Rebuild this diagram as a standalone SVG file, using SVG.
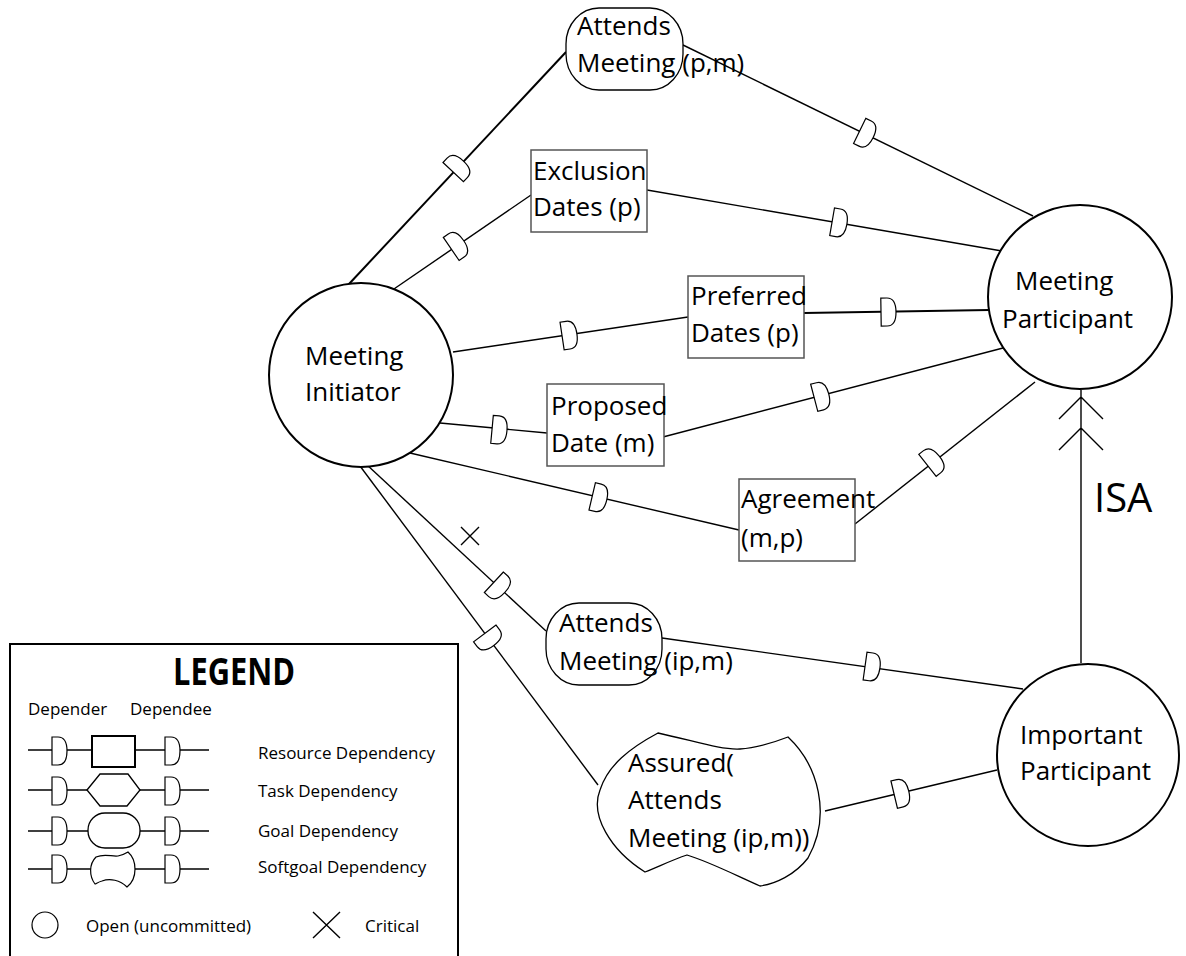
<svg xmlns="http://www.w3.org/2000/svg" xmlns:xlink="http://www.w3.org/1999/xlink" width="1186" height="956" viewBox="0 0 1186 956">
  <style>
    text { font-family: "Open Sans", "Noto Sans", sans-serif; fill: #000; }
    .lbl { font-size: 26px; }
    .leg { font-size: 17px; }
    .link { fill: none; stroke: #000; stroke-width: 1.4; }
    .thick { stroke-width: 2; }
    .actor { fill: #fff; stroke: #000; stroke-width: 2; }
    .res { fill: #fff; stroke: #555; stroke-width: 1.5; }
    .goal { fill: #fff; stroke: #000; stroke-width: 1.3; }
    .dmark { fill: #fff; stroke: #000; stroke-width: 1.2; }
  </style>
  <defs>
    <!-- "D" dependency mark, flat side toward the depender, bulge toward the dependee -->
    <path id="dep" class="dmark" d="M-7,-14 V14 H-1 C6,14 8,7 8,0 C8,-7 6,-14 -1,-14 Z"/>
  </defs>

  <!-- connectors -->
  <g id="connectors">
    <line class="link thick" x1="349" y1="284" x2="566" y2="52"/>
    <line class="link" x1="683" y1="45" x2="1033" y2="216"/>
    <line class="link" x1="391" y1="291" x2="531" y2="195"/>
    <line class="link" x1="647" y1="190" x2="1002" y2="251"/>
    <line class="link" x1="453" y1="352" x2="688" y2="317"/>
    <line class="link thick" x1="804" y1="313" x2="989" y2="310"/>
    <line class="link" x1="440" y1="423" x2="547" y2="433"/>
    <line class="link" x1="663" y1="437" x2="1003" y2="348"/>
    <line class="link" x1="410" y1="453" x2="739" y2="530"/>
    <line class="link" x1="855" y1="524" x2="1035" y2="382"/>
    <line class="link" x1="366" y1="464" x2="546" y2="631"/>
    <line class="link" x1="360" y1="466" x2="598" y2="785"/>
    <line class="link" x1="662" y1="638" x2="1023" y2="689"/>
    <line class="link" x1="825" y1="811" x2="997" y2="770"/>

    <!-- dependency marks -->
    <use href="#dep" transform="translate(458,167) rotate(-46.9)"/>
    <use href="#dep" transform="translate(866,134) rotate(26)"/>
    <use href="#dep" transform="translate(457,245) rotate(-34.4)"/>
    <use href="#dep" transform="translate(839,223) rotate(9.75)"/>
    <use href="#dep" transform="translate(569,335) rotate(-8.5)"/>
    <use href="#dep" transform="translate(888,312) rotate(-0.9)"/>
    <use href="#dep" transform="translate(499,430) rotate(5.3)"/>
    <use href="#dep" transform="translate(821,396) rotate(-14.7)"/>
    <use href="#dep" transform="translate(599,498) rotate(13.2)"/>
    <use href="#dep" transform="translate(933,461) rotate(-38.3)"/>
    <use href="#dep" transform="translate(499,587) rotate(42.9)"/>
    <use href="#dep" transform="translate(489,639) rotate(53.3)"/>
    <use href="#dep" transform="translate(872,667) rotate(8)"/>
    <use href="#dep" transform="translate(901,793) rotate(-13.4)"/>

    <!-- critical mark -->
    <path class="link" stroke-width="1.2" d="M461,527 L479,545 M479,527 L461,545"/>

    <!-- ISA link -->
    <path class="link" stroke-width="1.6" d="M1081,663 V390 M1059,419 L1081,397 L1103,419 M1059,450 L1081,428 L1103,450"/>
    <text x="1094" y="512" font-size="40">ISA</text>
  </g>

  <!-- actors -->
  <g id="meeting-initiator">
    <circle class="actor" cx="361" cy="375" r="92"/>
    <text class="lbl" x="305" y="365">Meeting</text>
    <text class="lbl" x="305" y="401">Initiator</text>
  </g>
  <g id="meeting-participant">
    <circle class="actor" cx="1080" cy="297" r="92"/>
    <text class="lbl" x="1015" y="290">Meeting</text>
    <text class="lbl" x="1002" y="328">Participant</text>
  </g>
  <g id="important-participant">
    <circle class="actor" cx="1088" cy="755" r="91"/>
    <text class="lbl" x="1020" y="744">Important</text>
    <text class="lbl" x="1020" y="780">Participant</text>
  </g>

  <!-- dependums -->
  <g id="attends-meeting-pm">
    <rect class="goal" x="566" y="8" width="117" height="82" rx="33" ry="36"/>
    <text class="lbl" x="577" y="35">Attends</text>
    <text class="lbl" x="577" y="72">Meeting (p,m)</text>
  </g>
  <g id="exclusion-dates">
    <rect class="res" x="531" y="150" width="116" height="82"/>
    <text class="lbl" x="533" y="180">Exclusion</text>
    <text class="lbl" x="533" y="216">Dates (p)</text>
  </g>
  <g id="preferred-dates">
    <rect class="res" x="688" y="276" width="116" height="82"/>
    <text class="lbl" x="691" y="305">Preferred</text>
    <text class="lbl" x="691" y="342">Dates (p)</text>
  </g>
  <g id="proposed-date">
    <rect class="res" x="547" y="384" width="117" height="82"/>
    <text class="lbl" x="551" y="415">Proposed</text>
    <text class="lbl" x="551" y="452">Date (m)</text>
  </g>
  <g id="agreement">
    <rect class="res" x="739" y="479" width="116" height="82"/>
    <text class="lbl" x="741" y="508">Agreement</text>
    <text class="lbl" x="741" y="547">(m,p)</text>
  </g>
  <g id="attends-meeting-ipm">
    <rect class="goal" x="546" y="603" width="116" height="82" rx="33" ry="36"/>
    <text class="lbl" x="559" y="632">Attends</text>
    <text class="lbl" x="559" y="670">Meeting (ip,m)</text>
  </g>
  <g id="assured-attendance">
    <path class="goal" d="M658,733 C695,741 720,750 740,749 C758,748 775,742 788,737 C818,765 832,815 808,858 C795,875 775,884 760,886 C735,875 710,862 687,855 C672,860 660,866 645,872 C610,850 590,815 600,790 C608,765 630,748 658,733 Z"/>
    <text class="lbl" x="628" y="772">Assured(</text>
    <text class="lbl" x="628" y="809">Attends</text>
    <text class="lbl" x="628" y="847">Meeting (ip,m))</text>
  </g>

  <!-- legend -->
  <g id="legend">
    <rect x="10" y="644" width="448" height="330" fill="#fff" stroke="#000" stroke-width="2"/>
    <text x="173" y="685" font-size="37" font-weight="bold" textLength="122" lengthAdjust="spacingAndGlyphs">LEGEND</text>
    <text class="leg" x="28" y="715">Depender</text>
    <text class="leg" x="130" y="715">Dependee</text>

    <line class="link" x1="28" y1="750" x2="209" y2="750"/>
    <use href="#dep" transform="translate(59,751)"/>
    <rect x="92" y="736" width="43" height="31" fill="#fff" stroke="#000" stroke-width="2"/>
    <use href="#dep" transform="translate(172,751)"/>
    <text class="leg" x="258" y="759">Resource Dependency</text>

    <line class="link" x1="28" y1="790" x2="209" y2="790"/>
    <use href="#dep" transform="translate(59,791)"/>
    <polygon points="87,790 100,774 128,774 140,790 127,806 100,806" fill="#fff" stroke="#000" stroke-width="1.3"/>
    <use href="#dep" transform="translate(172,791)"/>
    <text class="leg" x="258" y="797">Task Dependency</text>

    <line class="link" x1="28" y1="831" x2="209" y2="831"/>
    <use href="#dep" transform="translate(59,831)"/>
    <rect x="88" y="813" width="52" height="35" rx="17" ry="17" fill="#fff" stroke="#000" stroke-width="1.3"/>
    <use href="#dep" transform="translate(172,831)"/>
    <text class="leg" x="258" y="837">Goal Dependency</text>

    <line class="link" x1="28" y1="869" x2="209" y2="869"/>
    <use href="#dep" transform="translate(59,869)"/>
    <path d="M96,857 C105,853 112,857 118,856 C122,855 125,854 128,852 C137,860 138,878 127,887 C120,880 110,878 102,881 C98,882 96,884 95,884 C89,876 89,864 96,857 Z" fill="#fff" stroke="#000" stroke-width="1.2"/>
    <use href="#dep" transform="translate(172,869)"/>
    <text class="leg" x="258" y="873">Softgoal Dependency</text>

    <circle cx="45" cy="925" r="13" fill="#fff" stroke="#000" stroke-width="1.2"/>
    <text class="leg" x="86" y="932">Open (uncommitted)</text>
    <path class="link" stroke-width="1.2" d="M313,912 L340,938 M340,912 L313,938"/>
    <text class="leg" x="365" y="932">Critical</text>
  </g>
</svg>
